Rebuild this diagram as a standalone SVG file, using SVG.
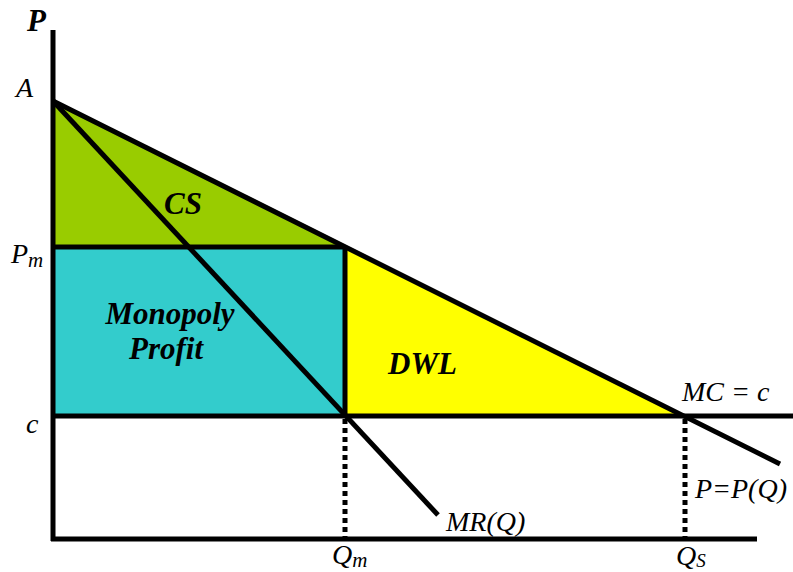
<svg xmlns="http://www.w3.org/2000/svg" width="793" height="572" viewBox="0 0 793 572">
<style>
.ln{stroke:#000;stroke-width:5;fill:none;stroke-linecap:butt}
.dot{stroke:#000;stroke-width:5;fill:none;stroke-dasharray:5 4}
.lb{font-family:"Liberation Serif",serif;font-style:italic;font-size:28px;fill:#000}
.bl{font-family:"Liberation Serif",serif;font-style:italic;font-weight:bold;font-size:31px;fill:#000}
</style>
<rect width="793" height="572" fill="#fff"/>
<g id="cs"><polygon points="53,101 345,247 53,247" fill="#99CC00"/><text class="bl" x="164" y="214">CS</text></g>
<g id="profit"><rect x="53" y="247" width="292" height="169" fill="#33CCCC"/><text class="bl" x="170" y="324" text-anchor="middle">Monopoly</text><text class="bl" x="166" y="359" text-anchor="middle">Profit</text></g>
<g id="dwl"><polygon points="345,247 685,416 345,416" fill="#FFFF00"/><text class="bl" x="388" y="374">DWL</text></g>
<g id="connectors">
<line class="ln" x1="53" y1="30" x2="53" y2="541"/>
<line class="ln" x1="51" y1="539" x2="757" y2="539"/>
<line class="ln" x1="53" y1="101" x2="780" y2="464"/>
<line class="ln" x1="53" y1="101" x2="438" y2="515"/>
<line class="ln" x1="53" y1="247" x2="345" y2="247"/>
<line class="ln" x1="345" y1="247" x2="345" y2="416"/>
<line class="ln" x1="53" y1="416" x2="793" y2="416"/>
<line class="dot" x1="345" y1="419" x2="345" y2="537"/>
<line class="dot" x1="685" y1="419" x2="685" y2="537"/>
</g>
<g id="labels">
<text class="bl" x="27" y="31" font-size="29">P</text>
<text class="lb" x="16" y="97">A</text>
<text class="lb" x="11" y="263">P<tspan font-size="21" dy="4">m</tspan></text>
<text class="lb" x="26" y="433">c</text>
<text class="lb" x="332" y="564">Q<tspan font-size="21" dy="3">m</tspan></text>
<text class="lb" x="676" y="565">Q<tspan font-size="19" dy="2">S</tspan></text>
<text class="lb" x="682" y="401" xml:space="preserve">MC = c</text>
<text class="lb" x="695" y="498">P=P(Q)</text>
<text class="lb" x="446" y="531">MR(Q)</text>
</g>
</svg>
